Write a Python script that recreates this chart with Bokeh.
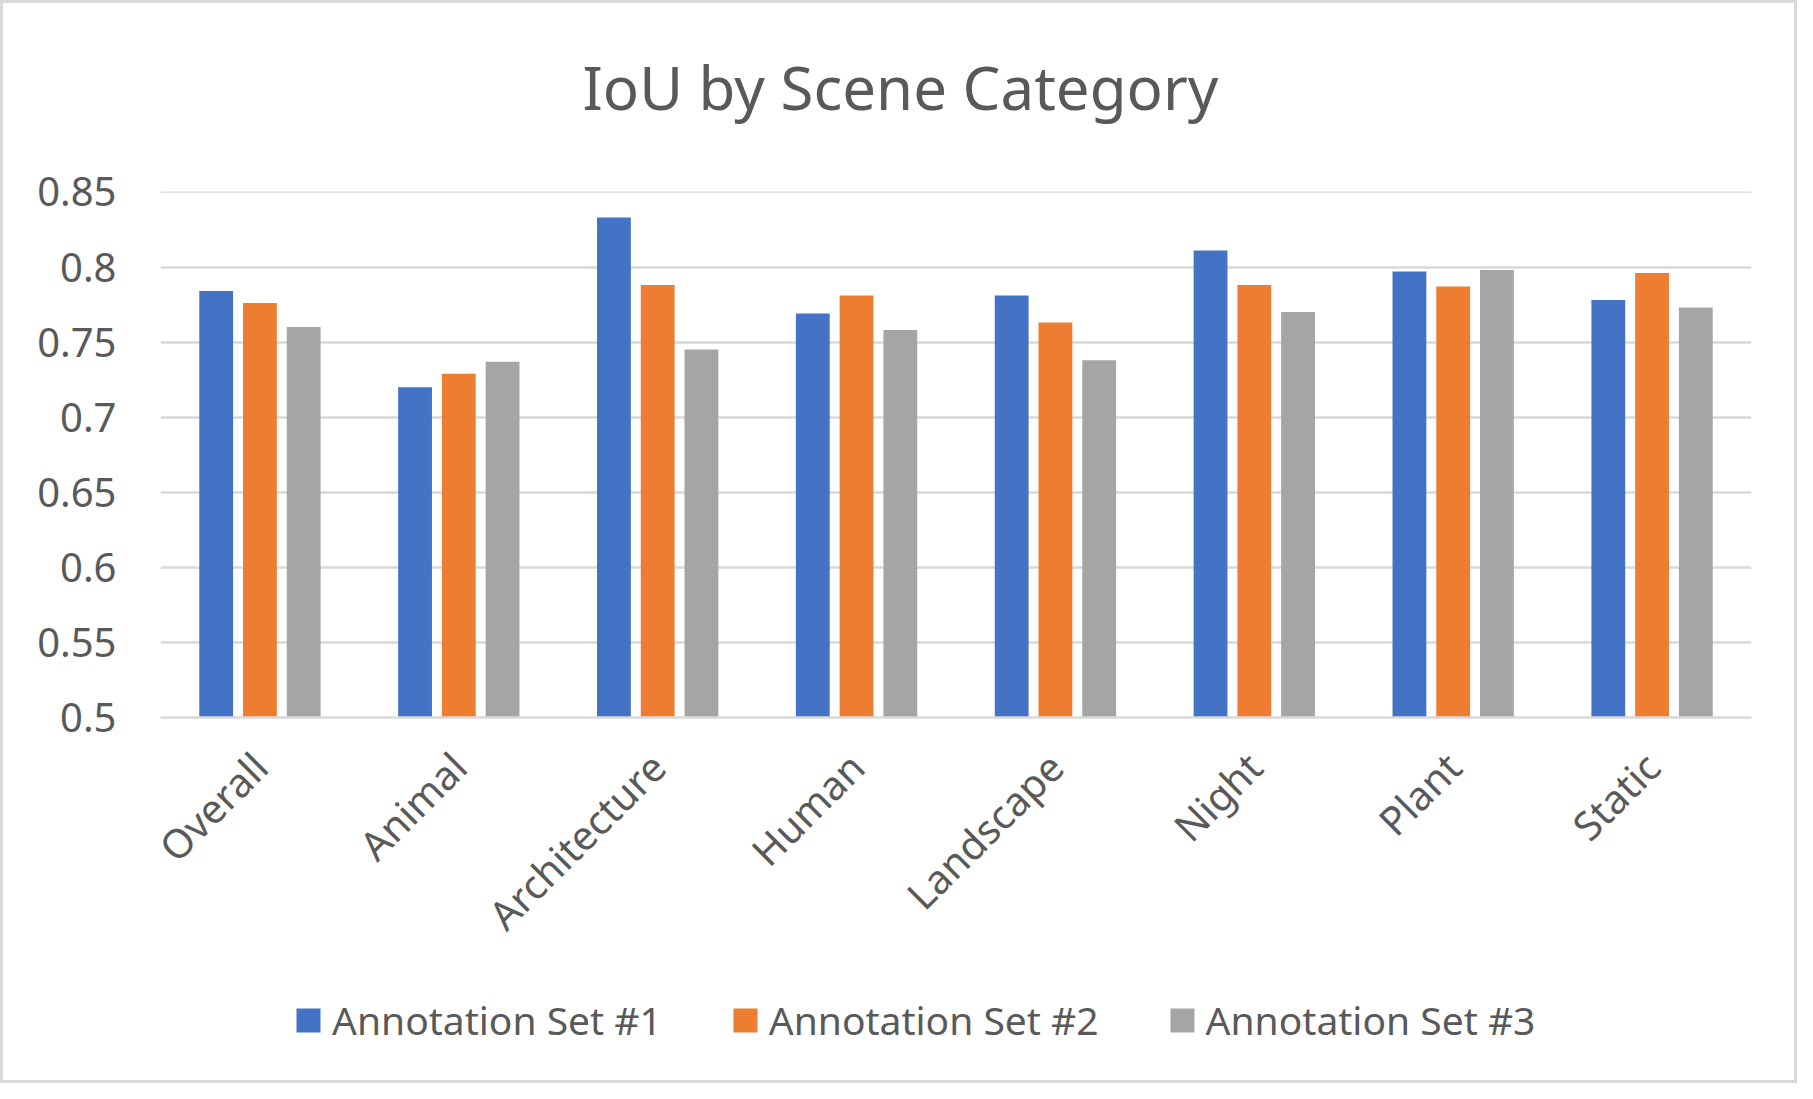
import math
from bokeh.plotting import figure
from bokeh.layouts import column
from bokeh.models import (FactorRange, ColumnDataSource, Legend, LegendItem,
                          FixedTicker, Title, Range1d)
from bokeh.transform import dodge
from bokeh.embed import file_html
from bokeh.resources import INLINE

categories = ["Overall", "Animal", "Architecture", "Human", "Landscape",
              "Night", "Plant", "Static"]
set1 = [0.784, 0.720, 0.833, 0.769, 0.781, 0.811, 0.797, 0.778]
set2 = [0.776, 0.729, 0.788, 0.781, 0.763, 0.788, 0.787, 0.796]
set3 = [0.760, 0.737, 0.745, 0.758, 0.738, 0.770, 0.798, 0.773]
series_names = ["Annotation Set #1", "Annotation Set #2", "Annotation Set #3"]
colors = ["#4472C4", "#ED7D31", "#A5A5A5"]
y_ticks = [0.5, 0.55, 0.6, 0.65, 0.7, 0.75, 0.8, 0.85]
y_tick_labels = ["0.5", "0.55", "0.6", "0.65", "0.7", "0.75", "0.8", "0.85"]

FONT = "Noto Sans"
TXT = "#595959"
GRID = "#D9D9D9"

src = ColumnDataSource(dict(cat=categories, s1=set1, s2=set2, s3=set3))

p = figure(width=1791, height=974, x_range=FactorRange(*categories, range_padding=0),
           y_range=(0.5, 0.8503), output_backend="svg", toolbar_location=None,
           min_border_left=157, min_border_right=43, min_border_top=188,
           min_border_bottom=260, title=None)

# spacer between the title and the plot area (nearest to the frame)
p.add_layout(Title(text=" ", text_font_size="2px", standoff=60), "above")
p.add_layout(Title(text="IoU by Scene Category", align="left", offset=422,
                   text_font=FONT, text_font_size="60px", text_font_style="normal",
                   text_color=TXT, standoff=0), "above")

for key, off, col in zip(["s1", "s2", "s3"], [-0.22, 0.0, 0.22], colors):
    p.vbar(x=dodge("cat", off, range=p.x_range), top=key, bottom=0.5,
           width=0.17, source=src, fill_color=col, line_color=None)

p.outline_line_color = None
p.background_fill_color = "white"
p.border_fill_color = "white"

p.xgrid.grid_line_color = None
p.ygrid.grid_line_color = GRID
p.ygrid.grid_line_width = 2.5

p.yaxis.ticker = FixedTicker(ticks=y_ticks)
p.yaxis.major_label_overrides = {t: l for t, l in zip(y_ticks, y_tick_labels)}
p.yaxis.axis_line_color = None
p.yaxis.major_tick_line_color = None
p.yaxis.minor_tick_line_color = None
p.yaxis.major_tick_out = 0
p.yaxis.major_label_standoff = 44
p.yaxis.major_label_text_font = FONT
p.yaxis.major_label_text_font_size = "40px"
p.yaxis.major_label_text_color = TXT

p.xaxis.axis_line_color = GRID
p.xaxis.axis_line_width = 2.5
p.xaxis.major_tick_line_color = None
p.xaxis.minor_tick_line_color = None
p.xaxis.major_tick_out = 0
p.xaxis.major_label_orientation = math.pi / 4
p.xaxis.major_label_standoff = 42
p.xaxis.major_label_text_font = FONT
p.xaxis.major_label_text_font_size = "40px"
p.xaxis.major_label_text_color = TXT

# legend strip below the chart (its helper bars have zero width and lie outside its range)
lg = figure(width=1791, height=103, x_range=FactorRange(*categories, range_padding=0),
            y_range=Range1d(0, 0.1), output_backend="svg", toolbar_location=None,
            min_border_left=0, min_border_right=0, min_border_top=0,
            min_border_bottom=0)
lg.axis.visible = False
lg.grid.grid_line_color = None
lg.outline_line_color = None
lg.background_fill_color = "white"
lg.border_fill_color = "white"

swatches = []
for key, off, col in zip(["s1", "s2", "s3"], [-0.22, 0.0, 0.22], colors):
    swatches.append(lg.vbar(x=dodge("cat", off, range=lg.x_range), top=key, bottom=0.5,
                            width=0, source=src, fill_color=col, line_color=None))

legend = Legend(items=[LegendItem(label=n, renderers=[r]) for n, r in zip(series_names, swatches)],
                orientation="horizontal", location=(133, 34),
                label_text_font=FONT, label_text_font_size="39px",
                label_text_color=TXT, glyph_width=30, glyph_height=30,
                label_standoff=9, spacing=68, padding=0, margin=0,
                border_line_color=None, background_fill_alpha=0)
lg.add_layout(legend, "center")

layout = column(p, lg, spacing=0, styles={"border": "3px solid #D9D9D9"})

open("out.html", "w").write(file_html(layout, INLINE))
